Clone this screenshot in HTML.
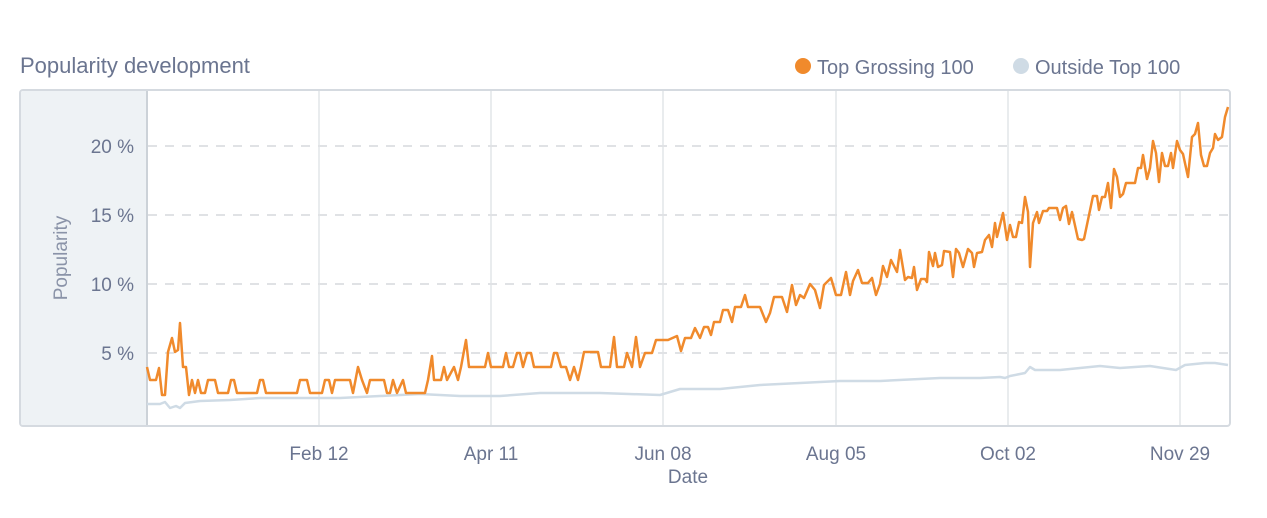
<!DOCTYPE html>
<html><head><meta charset="utf-8"><style>
body{margin:0;background:#fff;width:1267px;height:513px;overflow:hidden;font-family:"Liberation Sans",sans-serif;}
</style></head><body>
<svg width="1267" height="513" xmlns="http://www.w3.org/2000/svg" font-family="Liberation Sans, sans-serif">
<text x="20" y="73" font-size="22" fill="#6b7590">Popularity development</text>
<circle cx="803" cy="66" r="8" fill="#f08a2c"/>
<text x="817" y="74" font-size="20" fill="#6b7590">Top Grossing 100</text>
<circle cx="1021" cy="66" r="8" fill="#cfdbe5"/>
<text x="1035" y="74" font-size="20" fill="#6b7590">Outside Top 100</text>
<rect x="20" y="90" width="1210" height="336" rx="3" fill="#fff" stroke="#d5dae0" stroke-width="2"/>
<path d="M23 91 H147 V425 H23 Q21 425 21 423 V93 Q21 91 23 91Z" fill="#eef2f5"/>
<line x1="147" y1="91" x2="147" y2="425" stroke="#ccd2d8" stroke-width="2"/>
<g stroke="#e2e5e8" stroke-width="1.5">
<line x1="319" y1="91" x2="319" y2="425"/><line x1="491" y1="91" x2="491" y2="425"/>
<line x1="663" y1="91" x2="663" y2="425"/><line x1="836" y1="91" x2="836" y2="425"/>
<line x1="1008" y1="91" x2="1008" y2="425"/><line x1="1180" y1="91" x2="1180" y2="425"/>
</g>
<g stroke="#e0e2e5" stroke-width="2" stroke-dasharray="9,8">
<line x1="148" y1="146" x2="1229" y2="146"/><line x1="148" y1="215" x2="1229" y2="215"/>
<line x1="148" y1="284" x2="1229" y2="284"/><line x1="148" y1="353" x2="1229" y2="353"/>
</g>
<g font-size="19" fill="#6b7590" text-anchor="end">
<text x="134" y="153">20 %</text><text x="134" y="222">15 %</text>
<text x="134" y="291">10 %</text><text x="134" y="360">5 %</text>
</g>
<text transform="translate(67,258) rotate(-90)" font-size="19" fill="#8a93a8" text-anchor="middle">Popularity</text>
<g font-size="19" fill="#6b7590" text-anchor="middle">
<text x="319" y="460">Feb 12</text><text x="491" y="460">Apr 11</text><text x="663" y="460">Jun 08</text>
<text x="836" y="460">Aug 05</text><text x="1008" y="460">Oct 02</text><text x="1180" y="460">Nov 29</text>
<text x="688" y="483">Date</text>
</g>
<polyline fill="none" stroke="#cfdbe5" stroke-width="2.5" stroke-linejoin="round" points="147,404 160,404 165,402 170,408 176,406 180,408 185,403 200,401 230,400 260,398 300,398 340,398 380,396 420,394 460,396 500,396 540,393 600,393 660,395 680,389 720,389 760,385 800,383 840,381 880,381 940,378 980,378 1000,377 1005,378 1010,376 1020,374 1025,373 1030,367 1035,370 1060,370 1080,368 1100,366 1120,368 1150,366 1176,370 1185,365 1195,364 1205,363 1215,363 1228,365"/>
<polyline fill="none" stroke="#f08a2c" stroke-width="2.5" stroke-linejoin="round" points="147,367 150,380 156,380 159,368 162,395 165,395 168,352 172,338 175,352 178,350 180,323 183,367 186,367 189,395 192,380 195,393 198,380 201,393 205,393 208,380 215,380 218,393 228,393 231,380 234,380 237,393 257,393 260,380 263,380 266,393 297,393 300,380 307,380 310,393 322,393 325,380 329,380 332,393 335,380 350,380 353,393 358,367 362,380 367,393 370,380 384,380 387,393 390,393 393,380 397,393 403,380 406,393 425,393 428,380 432,356 434,380 441,380 444,367 447,380 454,367 458,380 461,367 466,340 469,367 485,367 488,353 491,367 503,367 506,353 509,367 513,367 517,353 520,353 523,367 527,353 531,353 534,367 551,367 554,353 557,353 561,367 566,367 570,380 574,367 578,380 581,367 584,352 598,352 601,367 610,367 614,337 617,367 624,367 627,353 632,367 636,337 640,367 645,353 652,353 656,340 668,340 677,336 681,351 685,338 691,338 695,328 700,338 704,327 708,327 711,335 714,322 720,322 723,310 728,310 732,322 735,307 741,307 745,295 748,307 760,307 766,322 770,313 774,297 782,297 787,312 792,285 796,305 800,295 804,298 810,284 815,290 820,308 824,285 831,278 836,295 841,295 846,272 850,295 853,281 858,270 862,283 868,283 872,278 876,295 880,284 883,266 887,277 891,260 897,272 900,250 905,280 908,277 912,278 914,267 917,290 921,279 925,279 927,282 929,252 933,266 935,253 938,267 942,265 944,251 950,252 953,277 956,249 959,253 963,267 968,249 972,253 974,267 977,253 982,252 985,240 989,235 992,247 995,223 997,237 1003,213 1007,240 1010,225 1013,237 1016,237 1019,222 1022,223 1025,197 1028,212 1030,267 1033,223 1037,212 1039,223 1043,211 1047,211 1049,208 1057,208 1060,220 1063,208 1066,206 1069,224 1072,212 1078,239 1082,240 1084,239 1093,196 1097,196 1099,210 1102,197 1105,197 1108,183 1111,208 1114,169 1117,177 1120,197 1123,194 1126,183 1135,183 1138,168 1141,168 1143,155 1147,179 1150,168 1153,141 1156,153 1159,182 1162,153 1165,166 1168,166 1171,153 1173,168 1177,141 1180,150 1183,154 1188,177 1192,137 1195,134 1198,123 1201,155 1204,166 1207,166 1210,153 1213,148 1215,134 1218,140 1222,137 1225,117 1228,107"/>
</svg>
</body></html>
